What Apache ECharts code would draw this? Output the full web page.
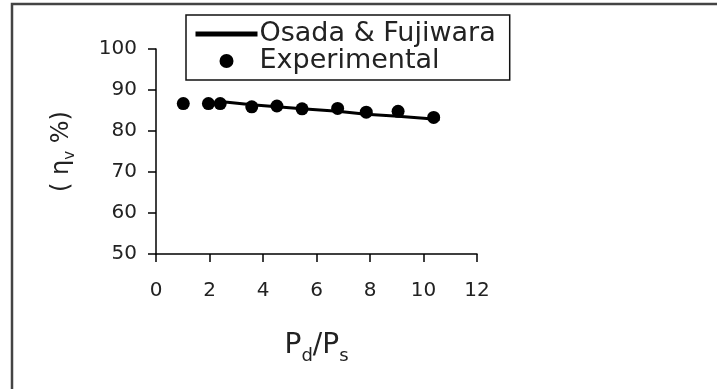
<!DOCTYPE html>
<html>
<head>
<meta charset="utf-8">
<script src="https://cdn.jsdelivr.net/npm/echarts@6/dist/echarts.min.js"></script>
<style>
  html, body { margin: 0; padding: 0; background: #fff; }
  #chart { width: 717px; height: 389px; }
</style>
</head>
<body>
<div id="chart"></div>
<script>
// Pressure ratio Pd/Ps of the measured points
const expX = [1.02, 1.96, 2.40, 3.58, 4.52, 5.46, 6.79, 7.86, 9.05, 10.38];
// Measured volumetric efficiency (%)
const expY = [86.7, 86.7, 86.7, 85.9, 86.1, 85.4, 85.5, 84.6, 84.8, 83.3];
// Osada & Fujiwara model curve
const modelX = [2.40, 3.58, 4.52, 5.46, 6.79, 7.86, 9.05, 10.6];
const modelY = [87.2, 86.4, 85.9, 85.4, 84.8, 84.1, 83.6, 82.8];
// Axis ticks
const xTicks = [0, 2, 4, 6, 8, 10, 12];
const yTicks = [50, 60, 70, 80, 90, 100];

const FONT = 'DejaVu Sans';
const INK = '#222';

const chart = echarts.init(document.getElementById('chart'), null, { renderer: 'canvas' });

chart.setOption({
  backgroundColor: '#fff',
  animation: false,
  graphic: [{
    type: 'rect',
    shape: { x: 12, y: 4, width: 900, height: 600 },
    style: { fill: 'none', stroke: '#444', lineWidth: 2.5 },
    silent: true
  }],
  grid: { left: 156, right: 240, top: 49, bottom: 135, containLabel: false },
  legend: {
    orient: 'vertical',
    left: 186,
    top: 15,
    padding: [5.5, 14, 5.5, 7],
    itemGap: 0,
    itemWidth: 62,
    itemHeight: 14,
    borderColor: '#111',
    borderWidth: 1.5,
    textStyle: { fontFamily: FONT, fontSize: 27, lineHeight: 25, color: INK, padding: [0, 0, 0, -3] },
    data: [
      {
        name: 'Osada & Fujiwara',
        lineStyle: { width: 5, color: '#000' },
        itemStyle: { color: 'transparent', borderWidth: 0, opacity: 0 }
      },
      { name: 'Experimental', icon: 'circle', itemStyle: { color: '#000', opacity: 1 } }
    ]
  },
  xAxis: {
    type: 'value',
    min: xTicks[0],
    max: xTicks[xTicks.length - 1],
    interval: xTicks[1] - xTicks[0],
    name: '{a|P}{s|d}{a|/P}{s|s}',
    nameLocation: 'middle',
    nameGap: 78,
    nameTextStyle: {
      rich: {
        a: { fontFamily: FONT, fontSize: 28, color: INK, verticalAlign: 'bottom' },
        s: { fontFamily: FONT, fontSize: 18, color: INK, verticalAlign: 'bottom', padding: [0, 0, -5, 0] }
      }
    },
    axisLine: { lineStyle: { color: '#000', width: 1.5 } },
    axisTick: { show: true, inside: false, length: 8, lineStyle: { color: '#000', width: 1.5 } },
    axisLabel: { margin: 27, fontFamily: FONT, fontSize: 20, color: INK },
    splitLine: { show: false }
  },
  yAxis: {
    type: 'value',
    min: yTicks[0],
    max: yTicks[yTicks.length - 1],
    interval: yTicks[1] - yTicks[0],
    name: '{a|( η}{s|v}{a| %)}',
    nameLocation: 'middle',
    nameGap: 82,
    nameRotate: 90,
    nameTextStyle: {
      rich: {
        a: { fontFamily: FONT, fontSize: 24, color: INK, verticalAlign: 'bottom' },
        s: { fontFamily: FONT, fontSize: 15, color: INK, verticalAlign: 'bottom', padding: [0, 0, -4, 0] }
      }
    },
    axisLine: { show: true, lineStyle: { color: '#000', width: 1.5 } },
    axisTick: { show: true, inside: false, length: 8, lineStyle: { color: '#000', width: 1.5 } },
    axisLabel: { margin: 19, fontFamily: FONT, fontSize: 20, color: INK },
    splitLine: { show: false }
  },
  series: [
    {
      name: 'Osada & Fujiwara',
      type: 'line',
      data: modelX.map((x, i) => [x, modelY[i]]),
      symbol: 'none',
      lineStyle: { color: '#000', width: 3 },
      z: 2
    },
    {
      name: 'Experimental',
      type: 'scatter',
      data: expX.map((x, i) => [x, expY[i]]),
      symbol: 'circle',
      symbolSize: 13,
      itemStyle: { color: '#000', opacity: 1 },
      z: 3
    }
  ]
});
</script>
</body>
</html>
